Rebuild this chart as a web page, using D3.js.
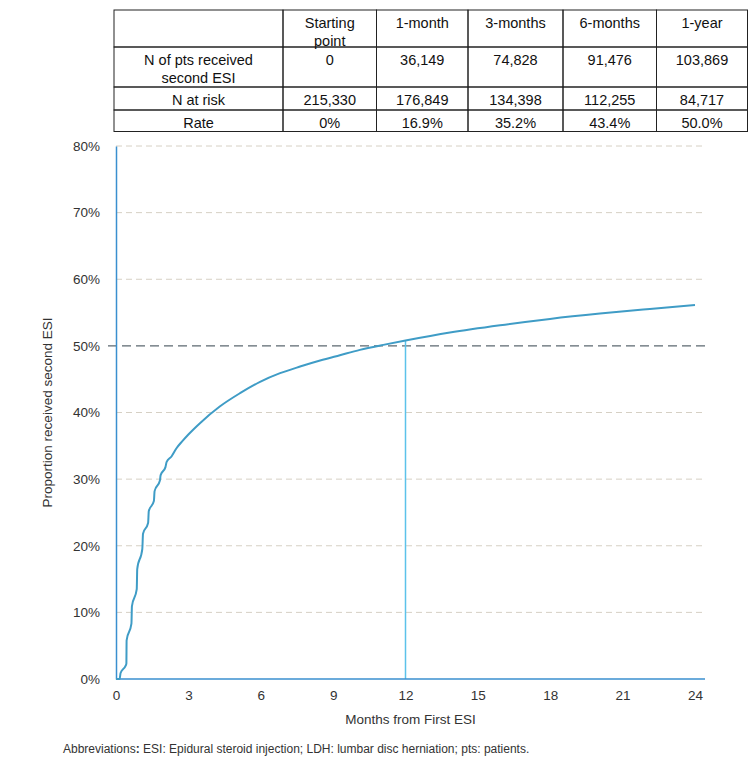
<!DOCTYPE html>
<html>
<head>
<meta charset="utf-8">
<script src="https://cdn.jsdelivr.net/npm/d3@7"></script>
<style>
  body { margin: 0; background: #fff; }
  text { font-family: "Liberation Sans", Arial, sans-serif; fill: #333; }
</style>
</head>
<body>
<script>
// table content
var colHeads = [["Starting", "point"], ["1-month"], ["3-months"], ["6-months"], ["1-year"]];
var rowHeads = [["N of pts received", "second ESI"], ["N at risk"], ["Rate"]];
var nReceived = ["0", "36,149", "74,828", "91,476", "103,869"];
var nAtRisk = ["215,330", "176,849", "134,398", "112,255", "84,717"];
var rates = ["0%", "16.9%", "35.2%", "43.4%", "50.0%"];

// curve: [months, percent]
var months = [0, 0.15, 0.19, 0.40, 0.43, 0.44, 0.64, 0.66, 0.86, 0.88, 1.09, 1.12, 1.33, 1.36, 1.57, 1.60,
  1.82, 1.85, 2.05, 2.10, 2.30, 2.50, 2.75, 3.0, 3.48, 4.3, 5.14, 5.97, 6.8, 7.63, 8.46, 9.28, 10.11,
  11.08, 12, 13.84, 15.92, 17.99, 20.06, 22.13, 24];
var pct = [0, 0, 0.9, 2.0, 2.3, 5.8, 8.3, 10.9, 13.5, 16.5, 19.5, 21.8, 23.4, 25.2, 26.7, 28.2,
  29.8, 30.6, 31.8, 32.6, 33.4, 34.6, 35.7, 36.7, 38.4, 40.9, 42.9, 44.6, 45.9, 46.9, 47.8, 48.6, 49.4,
  50.15, 50.8, 52.0, 53.1, 54.05, 54.85, 55.55, 56.15];

var xTicks = [0, 3, 6, 9, 12, 15, 18, 21, 24];
var yTicks = [0, 10, 20, 30, 40, 50, 60, 70, 80];
var refPct = 50, refMonth = 12;

var W = 748, H = 757;
var svg = d3.select("body").append("svg").attr("width", W).attr("height", H);

// ---- table ----
var colX = [114, 283, 376.5, 468, 563, 656.5, 747.5];
var rowY = [10, 47, 87, 110, 131.5];
var tbl = svg.append("g");
var cells = [];
cells.push({c: 0, r: 0, lines: []});
colHeads.forEach(function (h, i) { cells.push({c: i + 1, r: 0, lines: h}); });
var bodyRows = [nReceived, nAtRisk, rates];
rowHeads.forEach(function (h, r) {
  cells.push({c: 0, r: r + 1, lines: h});
  bodyRows[r].forEach(function (v, i) { cells.push({c: i + 1, r: r + 1, lines: [v]}); });
});

tbl.selectAll("rect").data(cells).enter().append("rect")
  .attr("x", function (d) { return colX[d.c]; })
  .attr("y", function (d) { return rowY[d.r]; })
  .attr("width", function (d) { return colX[d.c + 1] - colX[d.c]; })
  .attr("height", function (d) { return rowY[d.r + 1] - rowY[d.r]; })
  .attr("fill", "none").attr("stroke", "#222").attr("stroke-width", 1);

tbl.selectAll("g.cell").data(cells).enter().append("g").attr("class", "cell").each(function (d) {
  var cx = (colX[d.c] + colX[d.c + 1]) / 2;
  var top = rowY[d.r] + 18;
  d3.select(this).selectAll("text").data(d.lines).enter().append("text")
    .attr("x", cx).attr("y", function (t, i) { return top + i * 18; })
    .attr("text-anchor", "middle").attr("font-size", 14.5).style("fill", "#111")
    .text(function (t) { return t; });
});

// ---- chart ----
var x = d3.scaleLinear().domain([0, 24]).range([116, 695]);
var y = d3.scaleLinear().domain([0, 80]).range([679, 146]);
var gridRight = 705;

var g = svg.append("g");

g.selectAll("line.grid").data(yTicks.filter(function (t) { return t > 0 && t !== refPct; }))
  .enter().append("line").attr("class", "grid")
  .attr("x1", x(0)).attr("x2", gridRight)
  .attr("y1", function (d) { return y(d); }).attr("y2", function (d) { return y(d); })
  .attr("stroke", "#d6d0c4").attr("stroke-width", 1).attr("stroke-dasharray", "6,4");

// 50% reference line
g.append("line")
  .attr("x1", x(0) - 8).attr("x2", gridRight)
  .attr("y1", y(refPct)).attr("y2", y(refPct))
  .attr("stroke", "#5c6870").attr("stroke-width", 1.2).attr("stroke-dasharray", "9,5");

// vertical marker at 12 months
var at12 = pct[months.indexOf(refMonth)];
g.append("line")
  .attr("x1", x(refMonth)).attr("x2", x(refMonth))
  .attr("y1", y(at12)).attr("y2", y(0))
  .attr("stroke", "#5cc2ea").attr("stroke-width", 1.5);

// axes
var yAxis = g.append("g").attr("transform", "translate(" + x(0) + ",0)")
  .call(d3.axisLeft(y).tickValues(yTicks).tickSize(0).tickPadding(16)
    .tickFormat(function (d) { return d + "%"; }));
yAxis.select(".domain").attr("stroke", "#3a8fcf").attr("stroke-width", 1.5);
yAxis.selectAll("text").attr("font-size", 13.5).style("fill", "#333")
  .style("font-family", "'Liberation Sans', Arial, sans-serif");

var xAxis = g.append("g").attr("transform", "translate(0," + y(0) + ")")
  .call(d3.axisBottom(x).tickValues(xTicks).tickSize(0).tickPadding(11));
xAxis.select(".domain").attr("d", "M" + x(0) + ",0H" + gridRight)
  .attr("stroke", "#3a8fcf").attr("stroke-width", 1.5);
xAxis.selectAll("text").attr("font-size", 13.5).style("fill", "#333")
  .style("font-family", "'Liberation Sans', Arial, sans-serif");

// curve
var pts = months.map(function (m, i) { return [m, pct[i]]; });
var line = d3.line().curve(d3.curveMonotoneX)
  .x(function (d) { return x(d[0]); }).y(function (d) { return y(d[1]); });
g.append("path").datum(pts).attr("d", line)
  .attr("fill", "none").attr("stroke", "#3f9cc6").attr("stroke-width", 2);

// titles
svg.append("text").attr("x", (x(0) + gridRight) / 2).attr("y", 724)
  .attr("text-anchor", "middle").attr("font-size", 13.5).text("Months from First ESI");
svg.append("text").attr("transform", "translate(52," + y(40) + ") rotate(-90)")
  .attr("text-anchor", "middle").attr("font-size", 13.5).text("Proportion received second ESI");

var foot = svg.append("text").attr("x", 63).attr("y", 753).attr("font-size", 12);
foot.append("tspan").text("Abbreviations");
foot.append("tspan").attr("font-weight", "bold").text(":");
foot.append("tspan").text(" ESI: Epidural steroid injection; LDH: lumbar disc herniation; pts: patients.");
</script>
</body>
</html>
